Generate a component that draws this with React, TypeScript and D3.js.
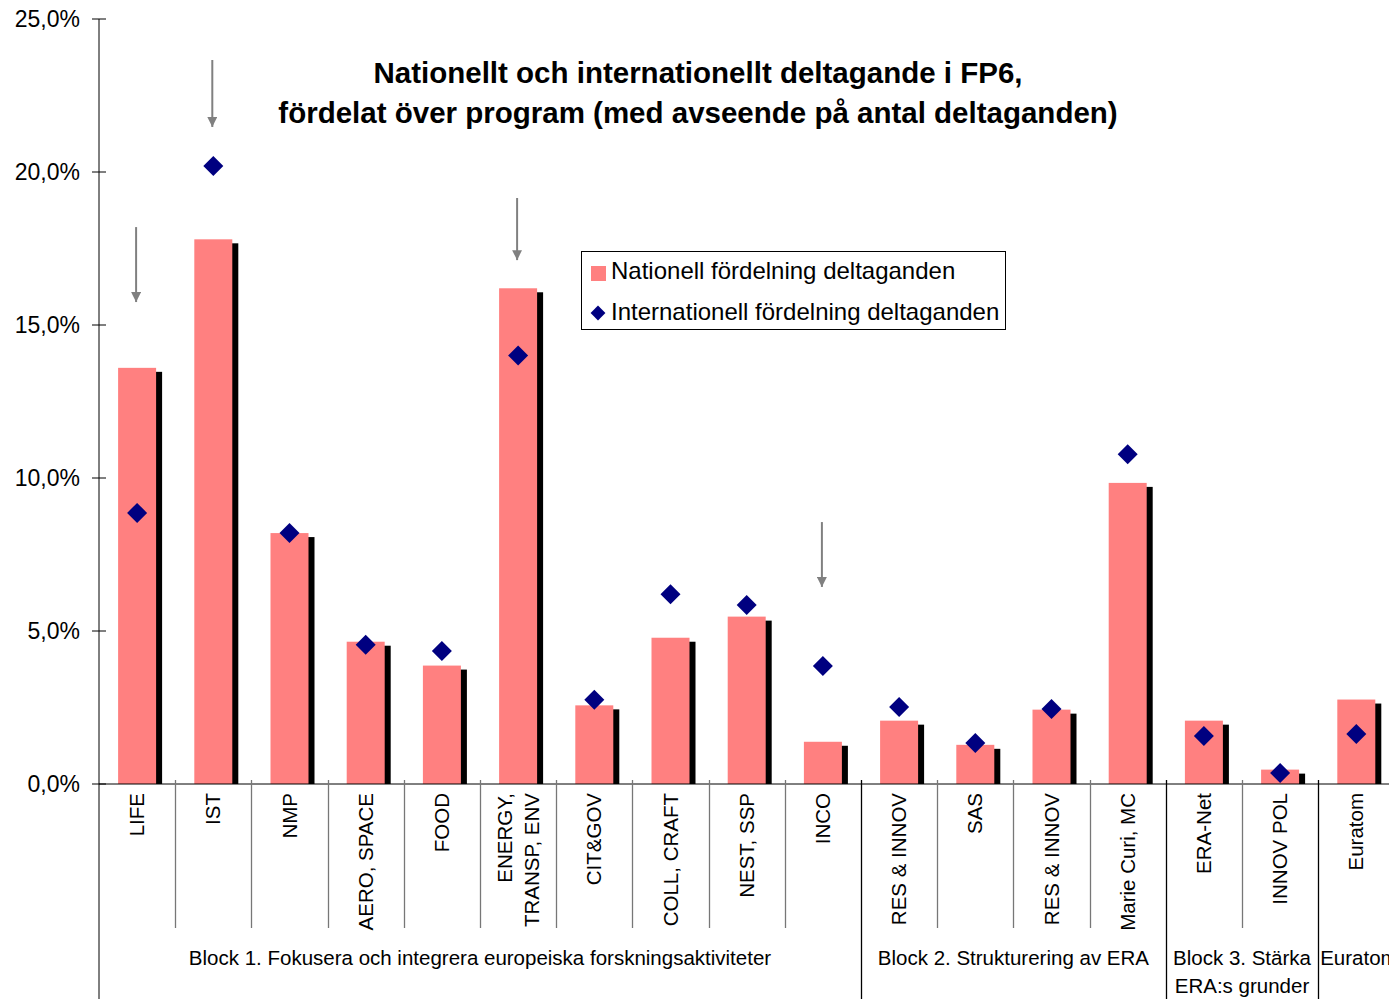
import * as d3 from 'd3';
import React, { useEffect, useRef } from 'react';

// programs (line breaks with \n)
const categories = [
    'LIFE', 'IST', 'NMP', 'AERO, SPACE', 'FOOD', 'ENERGY,\nTRANSP, ENV', 'CIT&GOV',
    'COLL, CRAFT', 'NEST, SSP', 'INCO', 'RES & INNOV', 'SAS', 'RES & INNOV ',
    'Marie Curi, MC', 'ERA-Net', 'INNOV POL', 'Euratom'
];

// share in percent
const national = [13.6, 17.8, 8.2, 4.65, 3.87, 16.2, 2.57, 4.78, 5.47, 1.38, 2.07, 1.28, 2.43, 9.84, 2.07, 0.47, 2.76];
const international = [8.86, 20.2, 8.2, 4.55, 4.35, 14.0, 2.75, 6.2, 5.85, 3.86, 2.52, 1.34, 2.45, 10.78, 1.57, 0.36, 1.63];

const yTicks = [0, 5, 10, 15, 20, 25];

// blocks: first and last category index
const blocks = [
    { label: ['Block 1. Fokusera och integrera europeiska forskningsaktiviteter'], from: 0, to: 9 },
    { label: ['Block 2. Strukturering av ERA'], from: 10, to: 13 },
    { label: ['Block 3. Stärka', 'ERA:s grunder'], from: 14, to: 15 },
    { label: ['Euratom'], from: 16, to: 16 }
];

// arrows: category and [top, bottom] in percent
const arrows = [
    { cat: 'LIFE', from: 18.2, to: 15.75 },
    { cat: 'IST', from: 23.66, to: 21.47 },
    { cat: 'ENERGY,\nTRANSP, ENV', from: 19.15, to: 17.12 },
    { cat: 'INCO', from: 8.56, to: 6.44 }
];

const titleLines = [
    'Nationellt och internationellt deltagande i FP6,',
    'fördelat över program (med avseende på antal deltaganden)'
];

const legendItems = ['Nationell fördelning deltaganden', 'Internationell fördelning deltaganden'];

const W = 1389;
const H = 999;
const FONT = '"Liberation Sans", Arial, sans-serif';

export default function App() {
    const ref = useRef<SVGSVGElement>(null);

    useEffect(() => {
        const svg = d3.select(ref.current);
        svg.selectAll('*').remove();

        const x0 = 99;
        const bandW = 76.2;
        const x = d3.scaleBand()
            .domain(categories)
            .range([ x0, x0 + bandW * categories.length ])
            .padding(0);
        const y = d3.scaleLinear()
            .domain([ 0, 25 ])
            .range([ 784, 19 ]);

        const locale = d3.formatLocale({ decimal: ',', thousands: ' ', grouping: [ 3 ], currency: [ '', '' ] });
        const fmt = locale.format('.1f');

        const g = svg.append('g').style('font-family', FONT);

        // y axis
        g.append('line')
            .attr('x1', x0).attr('x2', x0)
            .attr('y1', y(25)).attr('y2', H)
            .attr('stroke', '#000');
        const yt = g.append('g').selectAll('g')
            .data(yTicks)
            .enter()
            .append('g')
            .attr('transform', d => `translate(0,${y(d)})`);
        yt.append('line')
            .attr('x1', x0 - 7).attr('x2', x0 + 7)
            .attr('stroke', '#000');
        yt.append('text')
            .attr('x', 80)
            .attr('dy', '0.35em')
            .attr('text-anchor', 'end')
            .style('font-size', '23px')
            .text(d => `${fmt(d)}%`);

        const barW = 38;
        const cx = (c: string) => (x(c) as number) + x.bandwidth() / 2;

        // shadows
        g.append('g').selectAll('rect')
            .data(categories)
            .enter()
            .append('rect')
            .attr('x', c => cx(c) - barW / 2 + 6)
            .attr('y', (c, i) => y(national[i]) + 4)
            .attr('width', barW)
            .attr('height', (c, i) => Math.max(0, y(0) - y(national[i]) - 4))
            .attr('fill', '#000');

        // bars
        g.append('g').selectAll('rect')
            .data(categories)
            .enter()
            .append('rect')
            .attr('x', c => cx(c) - barW / 2)
            .attr('y', (c, i) => y(national[i]))
            .attr('width', barW)
            .attr('height', (c, i) => y(0) - y(national[i]))
            .attr('fill', '#FF8080');

        // x axis line
        g.append('line')
            .attr('x1', x0).attr('x2', W)
            .attr('y1', y(0)).attr('y2', y(0))
            .attr('stroke', '#000');

        // separators
        const blockStarts = blocks.map(b => b.from);
        g.append('g').selectAll('line')
            .data(categories.slice(1))
            .enter()
            .append('line')
            .attr('x1', c => Math.round(x(c) as number) + 0.5)
            .attr('x2', c => Math.round(x(c) as number) + 0.5)
            .attr('y1', y(0) - 4)
            .attr('y2', (c, i) => (blockStarts.includes(i + 1) ? H : 928))
            .attr('stroke', (c, i) => (blockStarts.includes(i + 1) ? '#000' : '#777'))
            .attr('stroke-width', 1.3);

        // diamonds
        g.append('g').selectAll('path')
            .data(categories)
            .enter()
            .append('path')
            .attr('d', d3.symbol(d3.symbolSquare, 200)())
            .attr('transform', (c, i) => `translate(${cx(c)},${y(international[i])}) rotate(45)`)
            .attr('fill', '#000080');

        // category labels
        const labels = g.append('g').selectAll('text')
            .data(categories)
            .enter()
            .append('text')
            .attr('transform', c => `translate(${cx(c)},${y(0) + 9}) rotate(-90)`)
            .attr('text-anchor', 'end')
            .style('font-size', '20.5px');
        labels.each(function (c) {
            const lines = c.trim().split('\n');
            const t = d3.select(this);
            lines.forEach((l, k) => {
                t.append('tspan')
                    .attr('x', 0)
                    .attr('y', (k - (lines.length - 1) / 2) * 27)
                    .attr('dy', '0.35em')
                    .text(l);
            });
        });

        // block labels
        blocks.forEach(b => {
            const left = x(categories[b.from]) as number;
            const right = (x(categories[b.to]) as number) + x.bandwidth();
            const t = g.append('text')
                .style('font-size', '20.5px');
            b.label.forEach((l, k) => {
                t.append('tspan')
                    .attr('x', right < W ? (left + right) / 2 : left + 2)
                    .attr('text-anchor', right < W ? 'middle' : 'start')
                    .attr('y', 965 + k * 28)
                    .text(l);
            });
        });

        // arrows
        g.append('defs').append('marker')
            .attr('id', 'ah')
            .attr('viewBox', '0 0 10 10')
            .attr('refX', 10).attr('refY', 5)
            .attr('markerWidth', 5).attr('markerHeight', 5)
            .attr('markerUnits', 'strokeWidth')
            .attr('orient', 'auto')
            .append('path')
            .attr('d', 'M0,0L10,5L0,10Z')
            .attr('fill', '#808080');
        g.append('g').selectAll('line')
            .data(arrows)
            .enter()
            .append('line')
            .attr('x1', d => cx(d.cat) - 1).attr('x2', d => cx(d.cat) - 1)
            .attr('y1', d => y(d.from)).attr('y2', d => y(d.to))
            .attr('stroke', '#808080')
            .attr('stroke-width', 2)
            .attr('marker-end', 'url(#ah)');

        // title
        g.append('g').selectAll('text')
            .data(titleLines)
            .enter()
            .append('text')
            .attr('x', 698)
            .attr('y', (d, i) => 83 + i * 40)
            .attr('text-anchor', 'middle')
            .style('font-size', '29.5px')
            .style('font-weight', 'bold')
            .text(d => d);

        // legend
        const lg = g.append('g').attr('transform', 'translate(581,251)');
        lg.append('rect')
            .attr('x', 0.5).attr('y', 0.5)
            .attr('width', 424).attr('height', 78)
            .attr('fill', '#fff')
            .attr('stroke', '#000');
        lg.append('rect')
            .attr('x', 10).attr('y', 15)
            .attr('width', 15).attr('height', 15)
            .attr('fill', '#FF8080');
        lg.append('path')
            .attr('d', d3.symbol(d3.symbolSquare, 110)())
            .attr('transform', 'translate(17,62) rotate(45)')
            .attr('fill', '#000080');
        lg.selectAll('text.item')
            .data(legendItems)
            .enter()
            .append('text')
            .attr('class', 'item')
            .attr('x', 30)
            .attr('y', (d, i) => 28 + i * 41)
            .style('font-size', '24px')
            .text(d => d);
    }, []);

    return (
        <svg ref={ref} width={W} height={H}
            style={{ position: 'absolute', left: 0, top: 0, background: '#fff' }} />
    );
}
